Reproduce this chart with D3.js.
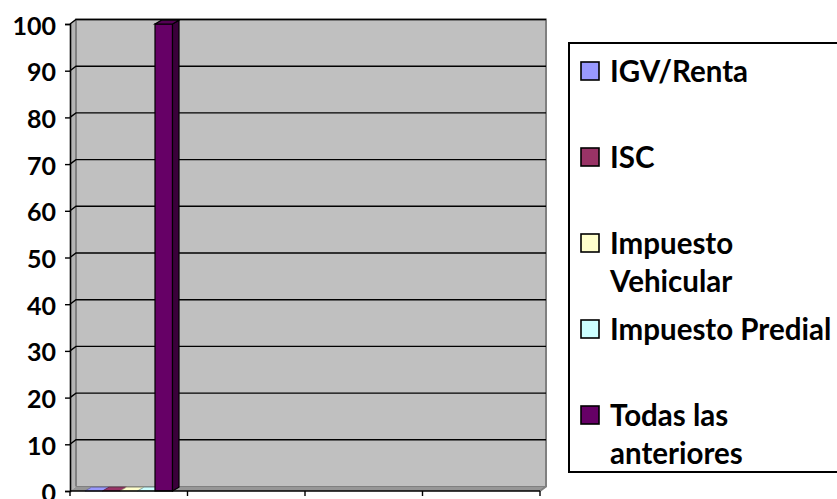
<!DOCTYPE html>
<html>
<head>
<meta charset="utf-8">
<script src="https://cdn.jsdelivr.net/npm/d3@7"></script>
<style>
  html, body { margin: 0; padding: 0; background: #ffffff; }
  svg { display: block; }
  text { font-family: Lato, "Open Sans", sans-serif; font-weight: bold; fill: #000; }
</style>
</head>
<body>
<svg id="chart" width="837" height="499"></svg>
<script>
// Category groups along the x axis (only the first one carries values)
const categories = ["1", "2", "3", "4"];

// Series names shown in the legend
const series = ["IGV/Renta", "ISC", "Impuesto Vehicular", "Impuesto Predial", "Todas las anteriores"];

// Values per series, one entry per category (null = no data)
const igvRenta          = [0, null, null, null];
const isc               = [0, null, null, null];
const impuestoVehicular = [0, null, null, null];
const impuestoPredial   = [0, null, null, null];
const todasAnteriores   = [100, null, null, null];

// Value-axis tick labels
const yTicks = [0, 10, 20, 30, 40, 50, 60, 70, 80, 90, 100];

// Series fill colours
const colors = ["#9999FF", "#993366", "#FFFFCC", "#CCFFFF", "#660066"];

const seriesValues = [igvRenta, isc, impuestoVehicular, impuestoPredial, todasAnteriores];

const svg = d3.select("#chart");

// 3-D depth offset between front plane and back wall
const DX = 6, DY = -4.5;
// bar depth
const BDX = 6.5, BDY = -3.8;

const x0 = d3.scaleBand().domain(categories).range([70, 540]).paddingInner(0).paddingOuter(0);
const x1 = d3.scaleBand().domain(series).range([0, x0.bandwidth()]).paddingInner(0).paddingOuter(0.857);
const y = d3.scaleLinear().domain([0, 100]).range([491, 24]);

const left = x0.range()[0], right = x0.range()[1];
const y0 = y(0), yTop = y(100);

// ---- walls and floor ----
const walls = svg.append("g");
// back wall
walls.append("rect")
  .attr("x", left + DX).attr("y", yTop + DY)
  .attr("width", right - left).attr("height", y0 - yTop)
  .attr("fill", "#C0C0C0");
// left side wall
walls.append("polygon")
  .attr("points", [[left, yTop], [left + DX, yTop + DY], [left + DX, y0 + DY], [left, y0]].join(" "))
  .attr("fill", "#B4B4B4");
// floor
walls.append("polygon")
  .attr("points", [[left, y0], [right, y0], [right + DX, y0 + DY], [left + DX, y0 + DY]].join(" "))
  .attr("fill", "#969696");
// wall edges
walls.append("path")
  .attr("d", `M${left + DX},${y0 + DY} L${left + DX},${yTop + DY} L${right + DX},${yTop + DY} L${right + DX},${y0 + DY} L${right},${y0}`)
  .attr("fill", "none").attr("stroke", "#808080").attr("stroke-width", 2);
walls.append("line")
  .attr("x1", left + DX).attr("y1", y0 + DY).attr("x2", right + DX).attr("y2", y0 + DY)
  .attr("stroke", "#808080").attr("stroke-width", 1);

// ---- gridlines on back wall and left wall ----
const grid = svg.append("g");
yTicks.filter(v => v > 0).forEach(v => {
  grid.append("path")
    .attr("d", `M${left},${y(v)} L${left + DX},${y(v) + DY} L${right + DX},${y(v) + DY}`)
    .attr("fill", "none").attr("stroke", "#000").attr("stroke-width", 1.4);
});

// ---- bars ----
const barsG = svg.append("g");
categories.forEach((cat, ci) => {
  series.forEach((s, si) => {
    const v = seriesValues[si][ci];
    if (v === null || v === undefined) return;
    const bx = x0(cat) + x1(s);
    const bw = x1.bandwidth();
    const by = y(v);
    const base = d3.color(colors[si]);
    const g = barsG.append("g");
    if (v > 0) {
      g.append("rect")
        .attr("x", bx).attr("y", by).attr("width", bw).attr("height", y0 - by)
        .attr("fill", base.formatHex()).attr("stroke", "#000").attr("stroke-width", 1.2);
      g.append("polygon")
        .attr("points", [[bx + bw, by], [bx + bw + BDX, by + BDY], [bx + bw + BDX, y0 + BDY], [bx + bw, y0]].join(" "))
        .attr("fill", base.darker(1.6).formatHex()).attr("stroke", "#000").attr("stroke-width", 1.2);
    }
    g.append("polygon")
      .attr("points", [[bx, by], [bx + BDX, by + BDY], [bx + bw + BDX, by + BDY], [bx + bw, by]].join(" "))
      .attr("fill", v > 0 ? base.darker(0.5).formatHex() : base.formatHex())
      .attr("stroke", v > 0 ? "#000" : base.darker(1.2).formatHex())
      .attr("stroke-width", v > 0 ? 1.2 : 0.8);
  });
});

// ---- value axis ----
const yAxis = d3.axisLeft(y).tickValues(yTicks).tickSize(5).tickPadding(9).tickFormat(d3.format("d"));
const yAxisG = svg.append("g").attr("transform", `translate(${left},0)`).call(yAxis);
yAxisG.select(".domain").attr("stroke", "#000").attr("stroke-width", 1.6);
yAxisG.selectAll(".tick line").attr("stroke", "#000").attr("stroke-width", 1.4);
yAxisG.selectAll(".tick text")
  .style("font-family", "Lato, 'Open Sans', sans-serif")
  .style("font-weight", "bold")
  .style("font-size", "25px")
  .attr("dy", "0.4em");

// ---- category axis ----
const xg = svg.append("g");
xg.append("line")
  .attr("x1", left).attr("x2", right).attr("y1", y0).attr("y2", y0)
  .attr("stroke", "#000").attr("stroke-width", 1.6);
const boundaries = categories.map(c => x0(c)).concat([right]);
xg.selectAll("line.tick").data(boundaries).join("line")
  .attr("class", "tick")
  .attr("x1", d => d).attr("x2", d => d)
  .attr("y1", y0).attr("y2", y0 + 5)
  .attr("stroke", "#000").attr("stroke-width", 1.4);

// ---- legend ----
const legend = svg.append("g");
legend.append("rect")
  .attr("x", 569).attr("y", 43).attr("width", 300).attr("height", 429)
  .attr("fill", "#fff").attr("stroke", "#000").attr("stroke-width", 2);

const itemStep = 86;
const maxLineWidth = 245;
series.forEach((s, i) => {
  const top = 62 + i * itemStep;
  legend.append("rect")
    .attr("x", 581).attr("y", top).attr("width", 18).attr("height", 18)
    .attr("fill", colors[i]).attr("stroke", "#000").attr("stroke-width", 1.6);
  const t = legend.append("text")
    .attr("x", 610).attr("y", top + 19.5)
    .style("font-size", "29.5px");
  // simple word wrap
  const words = s.split(" ");
  let line = [];
  let tspan = t.append("tspan").attr("x", 610).attr("dy", 0);
  words.forEach(w => {
    line.push(w);
    tspan.text(line.join(" "));
    if (tspan.node().getComputedTextLength() > maxLineWidth && line.length > 1) {
      line.pop();
      tspan.text(line.join(" "));
      line = [w];
      tspan = t.append("tspan").attr("x", 610).attr("dy", 38).text(w);
    }
  });
});
</script>
</body>
</html>
